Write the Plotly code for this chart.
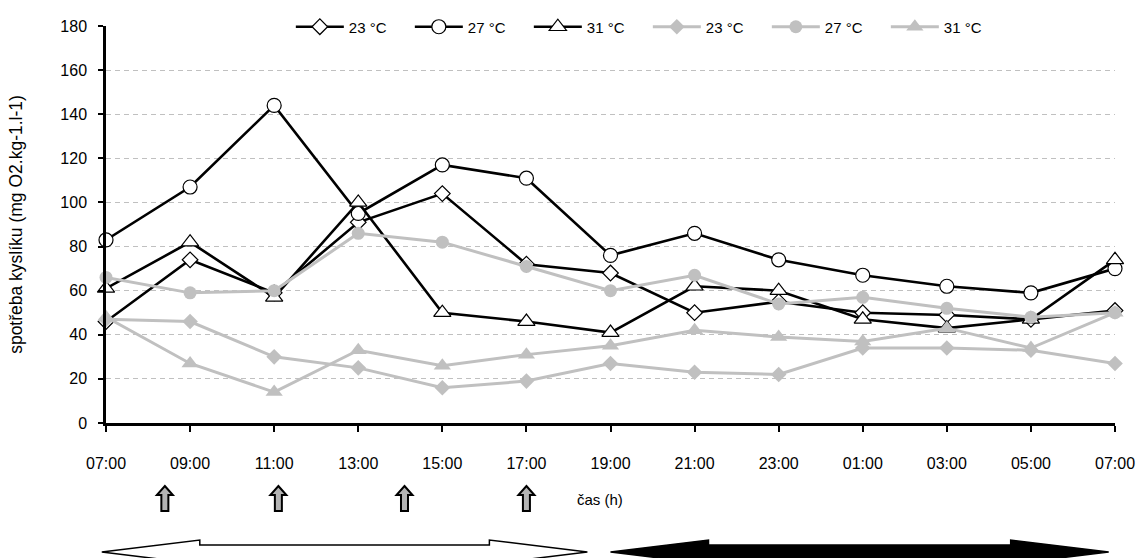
import plotly.graph_objects as go

# Sampling times (13 points, every 2 hours, 07:00 to 07:00 next day)
time_labels = ["07:00", "09:00", "11:00", "13:00", "15:00", "17:00", "19:00",
               "21:00", "23:00", "01:00", "03:00", "05:00", "07:00"]

# Oxygen consumption, series A (black lines)
a_23 = [46, 74, 59, 91, 104, 72, 68, 50, 55, 50, 49, 47, 51]
a_27 = [83, 107, 144, 95, 117, 111, 76, 86, 74, 67, 62, 59, 70]
a_31 = [61, 82, 57, 100, 50, 46, 41, 62, 60, 47, 43, 47, 74]

# Oxygen consumption, series B (grey lines)
b_23 = [47, 46, 30, 25, 16, 19, 27, 23, 22, 34, 34, 33, 27]
b_27 = [66, 59, 60, 86, 82, 71, 60, 67, 54, 57, 52, 48, 50]
b_31 = [48, 27, 14, 33, 26, 31, 35, 42, 39, 37, 43, 34, 50]

legend_names = ["23 °C", "27 °C", "31 °C"]

# Feeding times (hours of day) marked by small up-arrows
feeding_hours = [8.4, 11.1, 14.1, 17.0]
# Light / dark periods (hours, dark runs past midnight)
light_period = (6.9, 18.45)
dark_period = (19.0, 30.85)

FONT = "Liberation Sans, Arial, sans-serif"
GREY = "#c0c0c0"

# plot area geometry in pixels
L, R, T, B = 106, 26, 26, 135
W_FIG, H_FIG = 1141, 558
PW = W_FIG - L - R
PH = H_FIG - T - B
X_MAX = len(time_labels) - 1


def hour_to_x(h):
    return (h - 7.0) / 2.0


def px_x(xdata):
    return L + xdata / X_MAX * PW


def to_paper(px, py):
    return (px - L) / PW, (H_FIG - B - py) / PH


xs = list(range(len(time_labels)))

fig = go.Figure()

symbols = ["diamond", "circle", "triangle-up"]
black_sizes = [12, 14, 15]
for ys, name, sym, size in zip([a_23, a_27, a_31], legend_names, symbols, black_sizes):
    fig.add_trace(go.Scatter(
        x=xs, y=ys, name=name, mode="lines+markers", cliponaxis=False,
        line=dict(color="black", width=2.6),
        marker=dict(symbol=sym, size=size, color="white",
                    line=dict(color="black", width=1.2)),
    ))

grey_sizes = [12, 13, 15]
for ys, name, sym, size in zip([b_23, b_27, b_31], legend_names, symbols, grey_sizes):
    fig.add_trace(go.Scatter(
        x=xs, y=ys, name=name, mode="lines+markers", cliponaxis=False,
        line=dict(color=GREY, width=3),
        marker=dict(symbol=sym, size=size, color=GREY, line=dict(width=0)),
    ))

shapes = []


def path_from_px(points):
    parts = []
    for i, (px, py) in enumerate(points):
        xp, yp = to_paper(px, py)
        parts.append(("M" if i == 0 else "L") + f"{xp:.5f},{yp:.5f}")
    return " ".join(parts) + " Z"


# small block up-arrows (feeding)
for h in feeding_hours:
    cx = px_x(hour_to_x(h))
    top, bot = 486, 511
    head_w, shaft_w, head_h = 8, 3.5, 9
    pts = [(cx, top), (cx + head_w, top + head_h), (cx + shaft_w, top + head_h),
           (cx + shaft_w, bot), (cx - shaft_w, bot), (cx - shaft_w, top + head_h),
           (cx - head_w, top + head_h)]
    shapes.append(dict(type="path", xref="paper", yref="paper", path=path_from_px(pts),
                       fillcolor="#b4b4b4", line=dict(color="black", width=2)))


# long double-headed arrows: light period (white) and dark period (black)
def double_arrow(h0, h1):
    x0 = px_x(hour_to_x(h0))
    x1 = px_x(hour_to_x(h1))
    cy, head_half, shaft_half, head_len = 552, 12, 7, 98
    return [(x0, cy), (x0 + head_len, cy - head_half), (x0 + head_len, cy - shaft_half),
            (x1 - head_len, cy - shaft_half), (x1 - head_len, cy - head_half), (x1, cy),
            (x1 - head_len, cy + head_half), (x1 - head_len, cy + shaft_half),
            (x0 + head_len, cy + shaft_half), (x0 + head_len, cy + head_half)]


shapes.append(dict(type="path", xref="paper", yref="paper",
                   path=path_from_px(double_arrow(*light_period)),
                   fillcolor="white", line=dict(color="black", width=1.5)))
shapes.append(dict(type="path", xref="paper", yref="paper",
                   path=path_from_px(double_arrow(*dark_period)),
                   fillcolor="black", line=dict(color="black", width=1.5)))

cas_x, cas_y = to_paper(575, 499)

fig.update_layout(
    width=W_FIG, height=H_FIG,
    margin=dict(l=L, r=R, t=T, b=B, autoexpand=False),
    paper_bgcolor="white", plot_bgcolor="white",
    font=dict(family=FONT, size=16, color="black"),
    shapes=shapes,
    showlegend=True,
    legend=dict(orientation="h", x=0.537, xanchor="center", y=0.9975, yanchor="middle",
                bgcolor="white", font=dict(size=15), itemwidth=48,
                entrywidth=56, entrywidthmode="pixels",
                tracegroupgap=0, traceorder="normal"),
    annotations=[dict(text="čas (h)", xref="paper", yref="paper", x=cas_x, y=cas_y,
                      xanchor="left", yanchor="middle", showarrow=False,
                      font=dict(size=15))],
    xaxis=dict(range=[0, X_MAX], tickmode="array", tickvals=xs, ticktext=time_labels,
               showgrid=False, zeroline=False, showline=True, linecolor="black",
               linewidth=2.5, ticks="outside", ticklen=6, tickwidth=2, tickcolor="black",
               ticklabelstandoff=18, tickfont=dict(size=16)),
    yaxis=dict(range=[0, 180], dtick=20, showgrid=True, gridcolor=GREY, gridwidth=1,
               griddash="5px,4px", zeroline=False, showline=True, linecolor="black",
               linewidth=2.5, ticks="outside", ticklen=5, tickwidth=2, tickcolor="black",
               ticklabelstandoff=8, tickfont=dict(size=16),
               title=dict(text="spotřeba kyslíku (mg O2.kg-1.l-1)", font=dict(size=17.5),
                          standoff=34)),
)

fig.write_html("out.html")
